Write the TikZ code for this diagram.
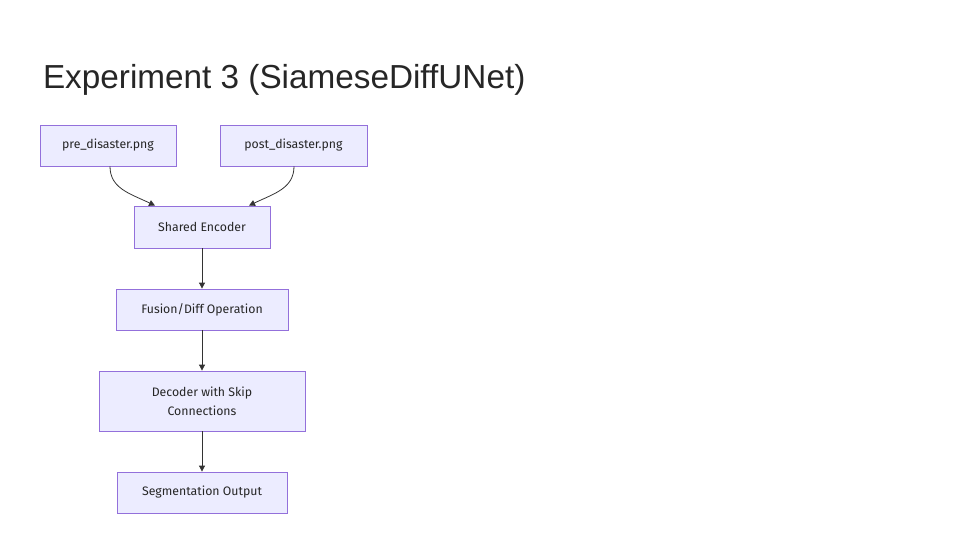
\documentclass[tikz,border=0pt]{standalone}
\usepackage{fontspec}
\setmainfont{Liberation Sans}
\newfontfamily\nodefont{Fira Sans}
\usetikzlibrary{arrows.meta}
\definecolor{nodefill}{HTML}{ECECFF}
\definecolor{nodeline}{HTML}{9370DB}
\definecolor{edge}{HTML}{333333}
\tikzset{
  box/.style={draw=nodeline, fill=nodefill, line width=0.8pt, inner sep=0pt, align=center,
    font=\nodefont\fontsize{12.3}{19}\selectfont, text=black!85},
  arr/.style={draw=edge, line width=0.8pt, -{Triangle[length=6pt,width=6pt]}}
}
\begin{document}
\begin{tikzpicture}[x=1pt,y=-1pt]
\useasboundingbox (0,0) rectangle (960,540);
\node[anchor=base west, font=\fontsize{33.3}{40}\selectfont, text=black!85] (title) at (39.5,89) {Experiment 3 (SiameseDiffUNet)};
\node[box, minimum width=136pt, minimum height=41pt] (pre) at (108,145.5) {pre\_disaster.png};
\node[box, minimum width=147pt, minimum height=41pt] (post) at (293.5,145.5) {post\_disaster.png};
\node[box, minimum width=136pt, minimum height=42pt] (enc) at (202,227) {Shared Encoder};
\node[box, minimum width=172pt, minimum height=41pt] (fus) at (202,309.5) {Fusion/Diff Operation};
\node[box, minimum width=206pt, minimum height=60pt] (dec) at (202,401) {Decoder with Skip\\Connections};
\node[box, minimum width=170pt, minimum height=41pt] (seg) at (202,492.5) {Segmentation Output};
\draw[arr] ([xshift=2pt]pre.south) .. controls +(0,22) and +(-25,-12) .. ([xshift=-47pt]enc.north);
\draw[arr] ([xshift=0.5pt]post.south) .. controls +(0,22) and +(25,-12) .. ([xshift=47pt]enc.north);
\draw[arr] (enc) -- (fus);
\draw[arr] (fus) -- (dec);
\draw[arr] (dec) -- (seg);
\end{tikzpicture}
\end{document}
